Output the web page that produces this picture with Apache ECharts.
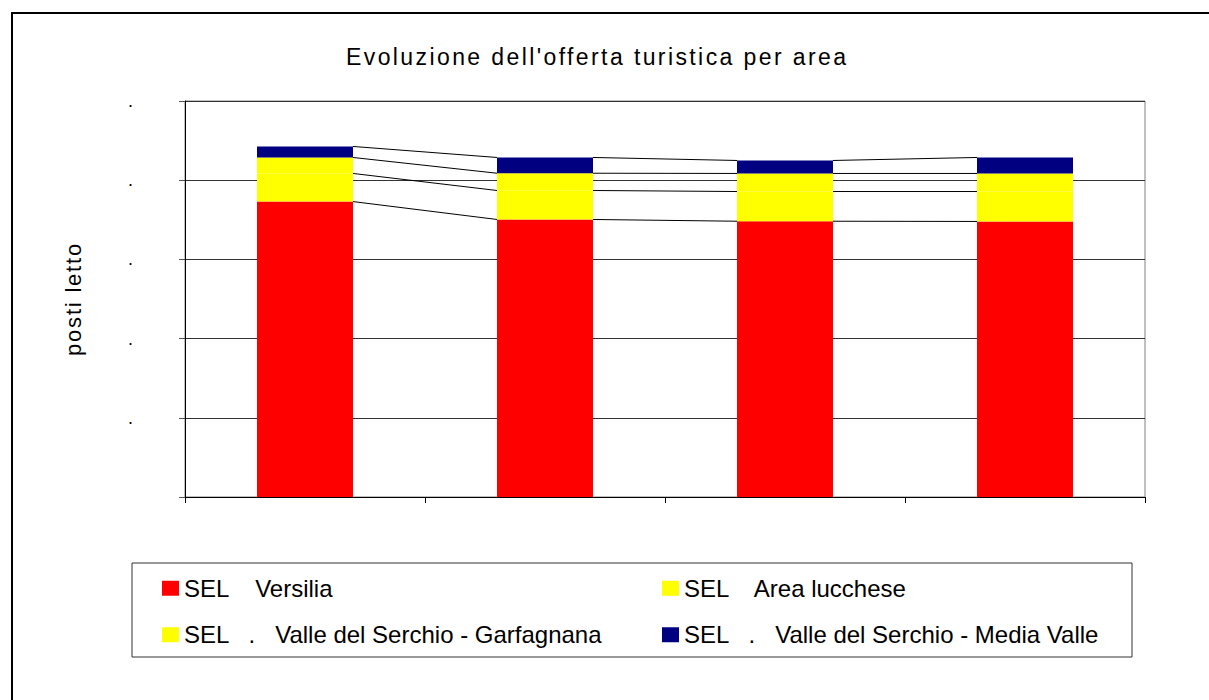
<!DOCTYPE html>
<html>
<head>
<meta charset="utf-8">
<script src="https://cdn.jsdelivr.net/npm/echarts@6/dist/echarts.min.js"></script>
<style>
html,body{margin:0;padding:0;background:#fff;}
#main{width:1209px;height:700px;}
/* spaced-out title and axis name, like the original */
#main text[style*="23px"]{letter-spacing:2.4px;}
#main text[style*="22px"]{letter-spacing:1.8px;}
</style>
</head>
<body>
<div id="main"></div>
<script>
// aree (4 rilevazioni, nessuna etichetta sull'asse x)
var categorie = ['1', '2', '3', '4'];
var nomi = ['SEL    Versilia', 'SEL    Area lucchese', 'SEL   .   Valle del Serchio - Garfagnana', 'SEL   .   Valle del Serchio - Media Valle'];
var versilia   = [37300, 35040, 34820, 34790];
var lucchese   = [3550, 3660, 3750, 3780];
var garfagnana = [2020, 2180, 2280, 2280];
var mediaValle = [1390, 1990, 1640, 2020];
var colori = ['#FF0000', '#FFFF00', '#FFFF00', '#000080'];

var valori = [versilia, lucchese, garfagnana, mediaValle];

// cumulati per le linee di serie
var cumulati = [];
for (var k = 0; k < valori.length; k++) {
	var riga = [];
	for (var i = 0; i < categorie.length; i++) {
		riga.push((k > 0 ? cumulati[k - 1][i] : 0) + valori[k][i]);
	}
	cumulati.push(riga);
}

var serie = [];
for (var k = 0; k < valori.length; k++) {
	serie.push({
		name: nomi[k],
		type: 'bar',
		stack: 'tot',
		barWidth: '40%',
		itemStyle: {color: colori[k]},
		data: valori[k],
		z: 3
	});
}

// linee di serie (da un bordo barra al successivo)
serie.push({
	name: 'linee',
	type: 'custom',
	z: 2,
	data: categorie.slice(0, categorie.length - 1).map(function (c, i) { return [i]; }),
	renderItem: function (params, api) {
		var i = api.value(0);
		var w = api.size([1, 0])[0] * 0.4;
		var figli = [];
		for (var k = 0; k < cumulati.length; k++) {
			var a = api.coord([i, cumulati[k][i]]);
			var b = api.coord([i + 1, cumulati[k][i + 1]]);
			figli.push({
				type: 'line',
				shape: {x1: a[0] + w / 2, y1: a[1], x2: b[0] - w / 2, y2: b[1]},
				style: {stroke: '#000', lineWidth: 1}
			});
		}
		return {type: 'group', children: figli};
	}
});

var chart = echarts.init(document.getElementById('main'), null, {renderer: 'svg'});
chart.setOption({
	backgroundColor: '#fff',
	animation: false,
	textStyle: {fontFamily: 'Liberation Sans'},
	title: {
		text: "Evoluzione dell'offerta turistica per area",
		left: 346,
		top: 45,
		padding: 0,
		textStyle: {fontSize: 23, fontWeight: 'normal', color: '#000', fontFamily: 'Liberation Sans'}
	},
	grid: {left: 185, right: 64, top: 101, bottom: 203, show: true, borderColor: '#808080', borderWidth: 1},
	legend: {
		data: nomi,
		left: 162,
		top: 570,
		width: 1000,
		padding: 0,
		itemGap: 10,
		itemWidth: 17,
		itemHeight: 15,
		icon: 'rect',
		textStyle: {fontSize: 24, color: '#000', width: 468, lineHeight: 36.5, fontFamily: 'Liberation Sans'}
	},
	xAxis: {
		type: 'category',
		data: categorie,
		axisLine: {lineStyle: {color: '#000', width: 1}},
		axisTick: {show: true, length: 6, lineStyle: {color: '#000'}},
		axisLabel: {show: false},
		splitLine: {show: false}
	},
	yAxis: {
		type: 'value',
		min: 0,
		max: 50000,
		interval: 10000,
		name: 'posti letto',
		nameLocation: 'middle',
		nameRotate: 90,
		nameGap: 101,
		nameTextStyle: {fontSize: 22, color: '#000', fontFamily: 'Liberation Sans'},
		axisLine: {show: true, lineStyle: {color: '#000', width: 1}},
		axisTick: {show: true, length: 6, lineStyle: {color: '#555'}},
		axisLabel: {
			margin: 52,
			fontSize: 18,
			color: '#000',
			formatter: function (v) { return v === 0 ? '' : '.'; }
		},
		splitLine: {show: true, lineStyle: {color: '#333', width: 1}}
	},
	graphic: [
		{type: 'rect', shape: {x: 12, y: 13, width: 1300, height: 800}, style: {fill: 'none', stroke: '#000', lineWidth: 2}, silent: true},
		{type: 'rect', shape: {x: 132, y: 563, width: 1000, height: 94}, style: {fill: 'none', stroke: '#333', lineWidth: 1}, silent: true, z: -1}
	],
	series: serie
});
</script>
</body>
</html>
